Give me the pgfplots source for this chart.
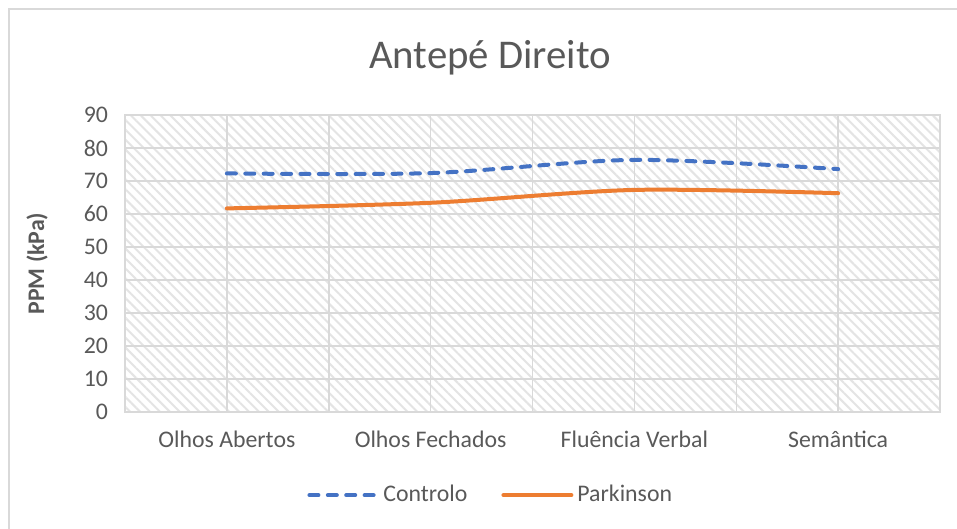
\documentclass[border=0pt]{standalone}
\usepackage{pgfplots}
\pgfplotsset{compat=1.18}
\usepackage{fontspec}
\setmainfont{Carlito}
\usetikzlibrary{patterns.meta}
\definecolor{txt}{HTML}{595959}
\definecolor{gridc}{HTML}{D9D9D9}
\definecolor{hatch}{HTML}{E4E4E4}
\definecolor{ctrl}{HTML}{4472C4}
\definecolor{park}{HTML}{ED7D31}
\begin{document}
\begin{tikzpicture}
\useasboundingbox (-62.5pt,-58.5pt) rectangle (416pt,206pt);
\draw[gridc, line width=0.8pt] (-58pt,-58.5pt) -- (-58pt,201.5pt) -- (416pt,201.5pt);
\begin{axis}[
  at={(0,0)}, anchor=south west,
  scale only axis, width=407.5pt, height=148.5pt,
  xmin=-0.5, xmax=3.5, ymin=0, ymax=90,
  xtick={0,1,2,3},
  xticklabels={Olhos Abertos, Olhos Fechados, Fluência Verbal, Semântica},
  minor xtick={0.5,1.5,2.5},
  ytick={0,10,...,90},
  grid=both,
  major grid style={gridc, line width=0.75pt},
  minor grid style={gridc, line width=0.75pt},
  major tick length=0pt, minor tick length=0pt,
  axis line style={gridc, line width=0.75pt},
  axis background/.style={preaction={fill=white}, pattern={Lines[angle=-45,distance=3.5pt,line width=1pt]}, pattern color=hatch},
  ticklabel style={font=\fontsize{11.9}{14}\selectfont, text=txt},
  xticklabel style={yshift=-6pt},
  yticklabel style={xshift=-5pt},
  /pgf/number format/assume math mode=true,
  ylabel={\bfseries PPM (kPa)},
  every axis y label/.style={at={(axis description cs:-0.108,0.5)}, rotate=90, anchor=center, font=\fontsize{11.9}{14}\selectfont, text=txt},
  legend style={at={(axis description cs:0.45,-0.28)}, anchor=center, draw=none, fill=none, legend columns=2, font=\fontsize{11.9}{14}\selectfont, text=txt, /tikz/every even column/.append style={column sep=15pt}},
  legend image code/.code={\draw[#1] (0pt,0pt) -- (34pt,0pt);},
]
\addplot[ctrl, line width=2pt, line cap=round, dash pattern=on 4.5pt off 4.7pt, smooth, tension=0.5] coordinates {(0,72.3) (1,72.4) (2,76.4) (3,73.6)};
\addlegendentry{Controlo}
\addplot[park, line width=2pt, line cap=round, smooth, tension=0.5] coordinates {(0,61.7) (1,63.4) (2,67.3) (3,66.3)};
\addlegendentry{Parkinson}
\end{axis}
\node[font=\fontsize{20.4}{24}\selectfont, text=txt] at (182.5pt,177pt) {Antepé Direito};
\end{tikzpicture}
\end{document}
